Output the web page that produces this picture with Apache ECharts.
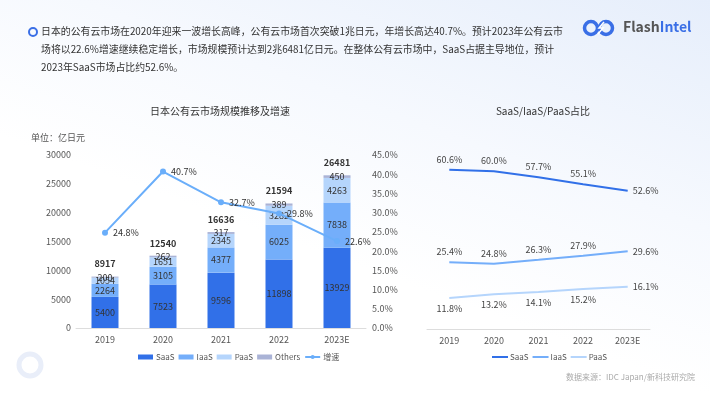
<!DOCTYPE html>
<html><head><meta charset="utf-8">
<script src="https://cdn.jsdelivr.net/npm/echarts@6/dist/echarts.min.js"></script>
<style>
html,body{margin:0;padding:0;}
#c{width:710px;height:399px;background:linear-gradient(200deg,#e6eefb 0%,#f6f9fe 35%,#ffffff 60%,#ffffff 100%);}
</style></head>
<body><div id="c"></div>
<script>
const years = ['2019','2020','2021','2022','2023E'];
const saas = [5400, 7523, 9596, 11898, 13929];
const iaas = [2264, 3105, 4377, 6025, 7838];
const paas = [1054, 1651, 2345, 3282, 4263];
const others = [200, 262, 317, 389, 450];
const totals = [8917, 12540, 16636, 21594, 26481];
const growth = [24.8, 40.7, 32.7, 29.8, 22.6];
const saasShare = [60.6, 60.0, 57.7, 55.1, 52.6];
const iaasShare = [25.4, 24.8, 26.3, 27.9, 29.6];
const paasShare = [11.8, 13.2, 14.1, 15.2, 16.1];

const FONT = '"Noto Sans CJK SC","Noto Sans",sans-serif';
const C1 = '#3170e8', C2 = '#74aefa', C3 = '#b5d5fc', C4 = '#aab3d6';
const chart = echarts.init(document.getElementById('c'));

function shareData(arr, pos) {
  return arr.map((v, i) => i === arr.length - 1
    ? {value: v, label: {position: 'right', distance: 5}}
    : {value: v, label: {position: pos}});
}
const barLabel = {show: true, position: 'inside', color: '#333', fontSize: 9, fontFamily: FONT};
const HF = '9.9px ' + FONT;

chart.setOption({
  textStyle: {fontFamily: FONT},
  title: [
    {text: '日本公有云市场规模推移及增速', left: 215, top: 101, textAlign: 'center',
     textStyle: {fontSize: 10, fontWeight: 'normal', color: '#333'}},
    {text: 'SaaS/IaaS/PaaS占比', left: 538, top: 101, textAlign: 'center',
     textStyle: {fontSize: 10, fontWeight: 'normal', color: '#333'}}
  ],
  legend: [
    {data: [{name: 'SaaS', icon: 'rect'}, {name: 'IaaS', icon: 'rect'}, {name: 'PaaS', icon: 'rect'},
            {name: 'Others', icon: 'rect'}, {name: '增速'}],
     left: 133, top: 348,
     itemWidth: 15, itemHeight: 5, itemGap: 4,
     textStyle: {fontSize: 8, color: '#555', padding: [0,0,0,-2]}},
    {data: ['SaaS占比','IaaS占比','PaaS占比'].map(n => ({name: n})), left: 487, top: 348,
     itemWidth: 16, itemHeight: 2, itemGap: 4, icon: 'rect',
     textStyle: {fontSize: 8, color: '#555', padding: [0,0,0,-3]},
     formatter: n => n.replace('占比','')}
  ],
  grid: [
    {left: 76, right: 344, top: 155, bottom: 71},
    {left: 427, right: 60, top: 145, bottom: 70}
  ],
  xAxis: [
    {type: 'category', data: years, gridIndex: 0,
     axisLine: {lineStyle: {color: '#ddd'}}, axisTick: {show: false},
     axisLabel: {color: '#555', fontSize: 9, margin: 7}},
    {type: 'category', data: years, gridIndex: 1,
     axisLine: {lineStyle: {color: '#ddd'}}, axisTick: {show: false},
     axisLabel: {color: '#555', fontSize: 9, margin: 7}}
  ],
  yAxis: [
    {type: 'value', gridIndex: 0, min: 0, max: 30000, interval: 5000,
     name: '单位：亿日元', nameLocation: 'end', nameGap: 13,
     nameTextStyle: {fontSize: 9, color: '#555', align: 'left', padding: [0,0,0,-45]},
     axisLine: {show: false}, axisTick: {show: false}, splitLine: {show: false},
     axisLabel: {color: '#555', fontSize: 9, margin: 5, formatter: v => String(v)}},
    {type: 'value', gridIndex: 0, min: 0, max: 45, interval: 5, position: 'right',
     axisLine: {show: false}, axisTick: {show: false}, splitLine: {show: false},
     axisLabel: {color: '#555', fontSize: 9, margin: 6, formatter: v => v.toFixed(1) + '%'}},
    {type: 'value', gridIndex: 1, min: 0, max: 70, show: false, splitLine: {show: false}}
  ],
  series: [
    {name: 'SaaS', type: 'bar', stack: 'a', barWidth: 27, data: saas, itemStyle: {color: C1}, label: barLabel},
    {name: 'IaaS', type: 'bar', stack: 'a', data: iaas, itemStyle: {color: C2}, label: barLabel},
    {name: 'PaaS', type: 'bar', stack: 'a', data: paas, itemStyle: {color: C3}, label: barLabel},
    {name: 'Others', type: 'bar', stack: 'a', data: others, itemStyle: {color: C4}, label: barLabel},
    {name: 'total', type: 'bar', stack: 'a', data: totals.map(() => 0), itemStyle: {color: 'transparent'},
     label: {show: true, position: 'top', distance: 8, color: '#333', fontSize: 9, fontWeight: 'bold',
             formatter: p => totals[p.dataIndex]}},
    {name: '增速', type: 'line', yAxisIndex: 1, data: growth, symbol: 'circle', symbolSize: 6,
     itemStyle: {color: '#6aaefa'}, lineStyle: {color: '#6aaefa', width: 2},
     label: {show: true, position: 'right', distance: 5, color: '#333', fontSize: 9, formatter: p => p.value.toFixed(1) + '%'}},
    {name: 'SaaS占比', type: 'line', xAxisIndex: 1, yAxisIndex: 2, data: shareData(saasShare, 'top'),
     symbol: 'circle', symbolSize: 0, itemStyle: {color: C1}, lineStyle: {color: C1, width: 2},
     label: {show: true, color: '#444', fontSize: 9, distance: 6, formatter: p => p.value.toFixed(1) + '%'}},
    {name: 'IaaS占比', type: 'line', xAxisIndex: 1, yAxisIndex: 2, data: shareData(iaasShare, 'top'),
     symbol: 'circle', symbolSize: 0, itemStyle: {color: C2}, lineStyle: {color: C2, width: 2},
     label: {show: true, color: '#444', fontSize: 9, distance: 6, formatter: p => p.value.toFixed(1) + '%'}},
    {name: 'PaaS占比', type: 'line', xAxisIndex: 1, yAxisIndex: 2, data: shareData(paasShare, 'bottom'),
     symbol: 'circle', symbolSize: 0, itemStyle: {color: C3}, lineStyle: {color: C3, width: 2},
     label: {show: true, color: '#444', fontSize: 9, distance: 6, formatter: p => p.value.toFixed(1) + '%'}}
  ],
  graphic: [
    {type: 'circle', shape: {cx: 33, cy: 32, r: 4}, style: {fill: 'none', stroke: '#3a6fe6', lineWidth: 2}},
    {type: 'text', left: 41, top: 26, style: {text: '日本的公有云市场在2020年迎来一波增长高峰，公有云市场首次突破1兆日元，年增长高达40.7%。预计2023年公有云市', fill: '#333', font: HF}},
    {type: 'text', left: 41, top: 44, style: {text: '场将以22.6%增速继续稳定增长，市场规模预计达到2兆6481亿日元。在整体公有云市场中，SaaS占据主导地位，预计', fill: '#333', font: HF}},
    {type: 'text', left: 41, top: 62, style: {text: '2023年SaaS市场占比约52.6%。', fill: '#333', font: HF}},
    {type: 'circle', shape: {cx: 591, cy: 28, r: 6.5}, style: {fill: 'none', stroke: '#3a6fe6', lineWidth: 3.5}},
    {type: 'circle', shape: {cx: 606, cy: 28, r: 6.5}, style: {fill: 'none', stroke: '#3a6fe6', lineWidth: 3.5}},
    {type: 'polyline', shape: {points: [[604, 22], [599, 28], [603, 28], [598, 34]]}, style: {fill: 'none', stroke: '#ffffff', lineWidth: 1.5}},
    {type: 'text', left: 623, top: 20, style: {rich: {a: {fill: '#555', font: 'bold 14px ' + FONT}, b: {fill: '#3a6fe6', font: 'bold 14px ' + FONT}}, text: '{a|Flash}{b|Intel}'}},
    {type: 'text', left: 566, top: 373, style: {text: '数据来源：IDC Japan/新科技研究院', fill: '#aaa', font: '8px ' + FONT}},
    {type: 'circle', shape: {cx: 30, cy: 365, r: 11}, style: {fill: 'none', stroke: '#e9eef9', lineWidth: 5}}
  ]
});
</script></body></html>
